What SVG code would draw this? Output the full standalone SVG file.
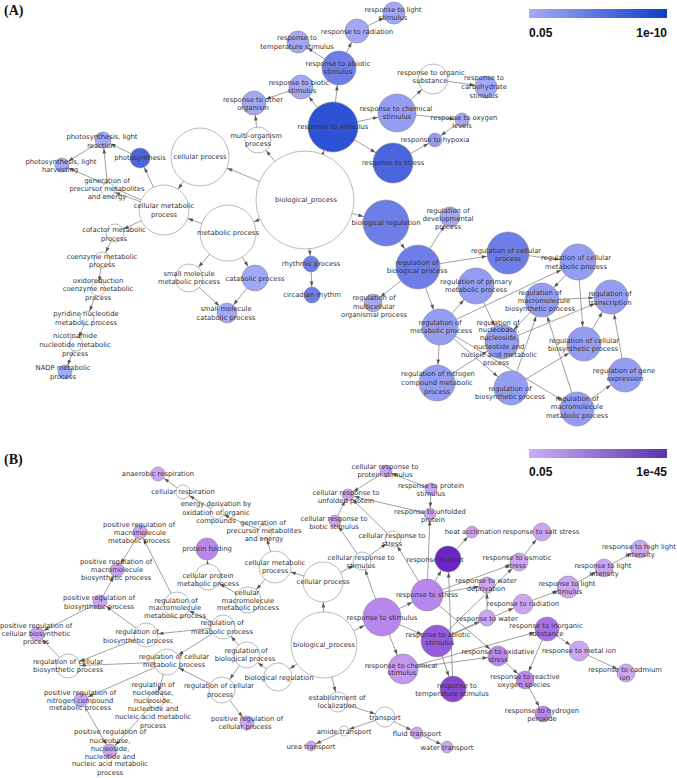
<svg xmlns="http://www.w3.org/2000/svg" width="677" height="778" viewBox="0 0 677 778">
<style>
.bg{fill:#fff}
circle{stroke:#8c8c8c;stroke-width:0.6}
.w{fill:#fff}
.ba{fill:#a2a7f6}.bb{fill:#959df2}.bc{fill:#6e7ee9}.bd{fill:#4b65df}.be{fill:#2e52d6}
.pa{fill:#cba5f3}.pa2{fill:#c497f0}.pb{fill:#b886ec}.pc{fill:#a870e6}.pd{fill:#965adf}.pe{fill:#8647d6}.pf{fill:#6a25c4}
text{font-family:"DejaVu Sans","Liberation Sans",sans-serif;font-size:6.8px;fill:#333;text-anchor:middle}
.cb{font-family:"Liberation Sans",Arial,sans-serif;font-size:12px;font-weight:bold;fill:#111}
.pl{font-family:"Liberation Serif","Times New Roman",serif;font-size:14px;font-weight:bold;fill:#111;text-anchor:start}
#edges line{stroke:#808080;stroke-width:0.75}
.ah{fill:#555}
</style>
<defs>
<linearGradient id="gA" x1="0" x2="1" y1="0" y2="0"><stop offset="0" stop-color="#a6abf8"/><stop offset="1" stop-color="#0d3ec6"/></linearGradient>
<linearGradient id="gB" x1="0" x2="1" y1="0" y2="0"><stop offset="0" stop-color="#cbb0f6"/><stop offset="1" stop-color="#5a34ad"/></linearGradient>
<marker id="m5" markerUnits="userSpaceOnUse" orient="auto" overflow="visible" markerWidth="1" markerHeight="1"><path class="ah" d="M-10.5,-1.8L-5.5,0L-10.5,1.8z"/></marker>
<marker id="m6" markerUnits="userSpaceOnUse" orient="auto" overflow="visible" markerWidth="1" markerHeight="1"><path class="ah" d="M-11.5,-1.8L-6.5,0L-11.5,1.8z"/></marker>
<marker id="m7" markerUnits="userSpaceOnUse" orient="auto" overflow="visible" markerWidth="1" markerHeight="1"><path class="ah" d="M-12.5,-1.8L-7.5,0L-12.5,1.8z"/></marker>
<marker id="m8" markerUnits="userSpaceOnUse" orient="auto" overflow="visible" markerWidth="1" markerHeight="1"><path class="ah" d="M-13.5,-1.8L-8.5,0L-13.5,1.8z"/></marker>
<marker id="m9" markerUnits="userSpaceOnUse" orient="auto" overflow="visible" markerWidth="1" markerHeight="1"><path class="ah" d="M-14.5,-1.8L-9.5,0L-14.5,1.8z"/></marker>
<marker id="m10" markerUnits="userSpaceOnUse" orient="auto" overflow="visible" markerWidth="1" markerHeight="1"><path class="ah" d="M-15.5,-1.8L-10.5,0L-15.5,1.8z"/></marker>
<marker id="m11" markerUnits="userSpaceOnUse" orient="auto" overflow="visible" markerWidth="1" markerHeight="1"><path class="ah" d="M-16.5,-1.8L-11.5,0L-16.5,1.8z"/></marker>
<marker id="m12" markerUnits="userSpaceOnUse" orient="auto" overflow="visible" markerWidth="1" markerHeight="1"><path class="ah" d="M-17.5,-1.8L-12.5,0L-17.5,1.8z"/></marker>
<marker id="m13" markerUnits="userSpaceOnUse" orient="auto" overflow="visible" markerWidth="1" markerHeight="1"><path class="ah" d="M-18.5,-1.8L-13.5,0L-18.5,1.8z"/></marker>
<marker id="m14" markerUnits="userSpaceOnUse" orient="auto" overflow="visible" markerWidth="1" markerHeight="1"><path class="ah" d="M-19.5,-1.8L-14.5,0L-19.5,1.8z"/></marker>
<marker id="m15" markerUnits="userSpaceOnUse" orient="auto" overflow="visible" markerWidth="1" markerHeight="1"><path class="ah" d="M-20.5,-1.8L-15.5,0L-20.5,1.8z"/></marker>
<marker id="m16" markerUnits="userSpaceOnUse" orient="auto" overflow="visible" markerWidth="1" markerHeight="1"><path class="ah" d="M-21.5,-1.8L-16.5,0L-21.5,1.8z"/></marker>
<marker id="m17" markerUnits="userSpaceOnUse" orient="auto" overflow="visible" markerWidth="1" markerHeight="1"><path class="ah" d="M-22.5,-1.8L-17.5,0L-22.5,1.8z"/></marker>
<marker id="m18" markerUnits="userSpaceOnUse" orient="auto" overflow="visible" markerWidth="1" markerHeight="1"><path class="ah" d="M-23.5,-1.8L-18.5,0L-23.5,1.8z"/></marker>
<marker id="m19" markerUnits="userSpaceOnUse" orient="auto" overflow="visible" markerWidth="1" markerHeight="1"><path class="ah" d="M-24.5,-1.8L-19.5,0L-24.5,1.8z"/></marker>
<marker id="m20" markerUnits="userSpaceOnUse" orient="auto" overflow="visible" markerWidth="1" markerHeight="1"><path class="ah" d="M-25.5,-1.8L-20.5,0L-25.5,1.8z"/></marker>
<marker id="m21" markerUnits="userSpaceOnUse" orient="auto" overflow="visible" markerWidth="1" markerHeight="1"><path class="ah" d="M-26.5,-1.8L-21.5,0L-26.5,1.8z"/></marker>
<marker id="m22" markerUnits="userSpaceOnUse" orient="auto" overflow="visible" markerWidth="1" markerHeight="1"><path class="ah" d="M-27.5,-1.8L-22.5,0L-27.5,1.8z"/></marker>
<marker id="m23" markerUnits="userSpaceOnUse" orient="auto" overflow="visible" markerWidth="1" markerHeight="1"><path class="ah" d="M-28.5,-1.8L-23.5,0L-28.5,1.8z"/></marker>
<marker id="m25" markerUnits="userSpaceOnUse" orient="auto" overflow="visible" markerWidth="1" markerHeight="1"><path class="ah" d="M-30.5,-1.8L-25.5,0L-30.5,1.8z"/></marker>
<marker id="m28" markerUnits="userSpaceOnUse" orient="auto" overflow="visible" markerWidth="1" markerHeight="1"><path class="ah" d="M-33.5,-1.8L-28.5,0L-33.5,1.8z"/></marker>
<marker id="m29" markerUnits="userSpaceOnUse" orient="auto" overflow="visible" markerWidth="1" markerHeight="1"><path class="ah" d="M-34.5,-1.8L-29.5,0L-34.5,1.8z"/></marker>
</defs>
<rect class="bg" x="0" y="0" width="677" height="778"/>
<text class="pl" x="4" y="15">(A)</text>
<text class="pl" x="4" y="464">(B)</text>
<g id="legendA">
<rect x="529" y="9" width="138" height="9" fill="url(#gA)"/>
<text class="cb" x="529" y="36.5" style="text-anchor:start">0.05</text>
<text class="cb" x="667" y="36.5" style="text-anchor:end">1e-10</text>
</g>
<g id="legendB">
<rect x="529" y="449" width="138" height="9" fill="url(#gB)"/>
<text class="cb" x="529" y="475.5" style="text-anchor:start">0.05</text>
<text class="cb" x="667" y="475.5" style="text-anchor:end">1e-45</text>
</g>
<g id="edges">
<line x1="305" y1="200" x2="200" y2="157" marker-end="url(#m29)"/>
<line x1="305" y1="200" x2="258" y2="140" marker-end="url(#m13)"/>
<line x1="305" y1="200" x2="333" y2="127" marker-end="url(#m25)"/>
<line x1="305" y1="200" x2="228" y2="233" marker-end="url(#m28)"/>
<line x1="305" y1="200" x2="311" y2="264" marker-end="url(#m8)"/>
<line x1="305" y1="200" x2="386" y2="223" marker-end="url(#m23)"/>
<line x1="200" y1="157" x2="164" y2="210" marker-end="url(#m25)"/>
<line x1="258" y1="140" x2="254" y2="103" marker-end="url(#m12)"/>
<line x1="333" y1="127" x2="301" y2="87" marker-end="url(#m12)"/>
<line x1="333" y1="127" x2="339" y2="68" marker-end="url(#m17)"/>
<line x1="333" y1="127" x2="397" y2="113" marker-end="url(#m19)"/>
<line x1="333" y1="127" x2="393" y2="163" marker-end="url(#m20)"/>
<line x1="339" y1="68" x2="298" y2="42" marker-end="url(#m11)"/>
<line x1="339" y1="68" x2="357" y2="31" marker-end="url(#m12)"/>
<line x1="357" y1="31" x2="394" y2="13" marker-end="url(#m11)"/>
<line x1="397" y1="113" x2="433" y2="79" marker-end="url(#m15)"/>
<line x1="433" y1="79" x2="486" y2="87" marker-end="url(#m11)"/>
<line x1="397" y1="113" x2="462" y2="120" marker-end="url(#m7)"/>
<line x1="462" y1="120" x2="435" y2="140" marker-end="url(#m7)"/>
<line x1="393" y1="163" x2="435" y2="140" marker-end="url(#m7)"/>
<line x1="301" y1="87" x2="254" y2="103" marker-end="url(#m12)"/>
<line x1="164" y1="210" x2="140" y2="158" marker-end="url(#m10)"/>
<line x1="140" y1="158" x2="103" y2="140" marker-end="url(#m8)"/>
<line x1="103" y1="140" x2="62" y2="165" marker-end="url(#m7)"/>
<line x1="108" y1="190" x2="103" y2="140" marker-end="url(#m8)"/>
<line x1="164" y1="210" x2="108" y2="190" marker-end="url(#m7)"/>
<line x1="164" y1="210" x2="62" y2="165" marker-end="url(#m7)"/>
<line x1="164" y1="210" x2="115" y2="233" marker-end="url(#m9)"/>
<line x1="115" y1="233" x2="102" y2="260" marker-end="url(#m8)"/>
<line x1="102" y1="260" x2="98" y2="289" marker-end="url(#m7)"/>
<line x1="98" y1="289" x2="87" y2="318" marker-end="url(#m7)"/>
<line x1="87" y1="318" x2="76" y2="344" marker-end="url(#m7)"/>
<line x1="76" y1="344" x2="65" y2="372" marker-end="url(#m7)"/>
<line x1="228" y1="233" x2="164" y2="210" marker-end="url(#m25)"/>
<line x1="228" y1="233" x2="189" y2="278" marker-end="url(#m14)"/>
<line x1="228" y1="233" x2="255" y2="278" marker-end="url(#m13)"/>
<line x1="189" y1="278" x2="227" y2="313" marker-end="url(#m10)"/>
<line x1="255" y1="278" x2="227" y2="313" marker-end="url(#m10)"/>
<line x1="311" y1="264" x2="312" y2="295" marker-end="url(#m8)"/>
<line x1="386" y1="223" x2="418" y2="267" marker-end="url(#m22)"/>
<line x1="418" y1="267" x2="450" y2="217" marker-end="url(#m10)"/>
<line x1="418" y1="267" x2="373" y2="303" marker-end="url(#m9)"/>
<line x1="418" y1="267" x2="440" y2="327" marker-end="url(#m18)"/>
<line x1="418" y1="267" x2="508" y2="253" marker-end="url(#m21)"/>
<line x1="440" y1="327" x2="437" y2="383" marker-end="url(#m18)"/>
<line x1="440" y1="327" x2="476" y2="286" marker-end="url(#m18)"/>
<line x1="440" y1="327" x2="578" y2="262" marker-end="url(#m18)"/>
<line x1="508" y1="253" x2="578" y2="262" marker-end="url(#m18)"/>
<line x1="578" y1="262" x2="542" y2="300" marker-end="url(#m17)"/>
<line x1="578" y1="262" x2="584" y2="344" marker-end="url(#m17)"/>
<line x1="542" y1="300" x2="611" y2="297" marker-end="url(#m17)"/>
<line x1="542" y1="300" x2="502" y2="342" marker-end="url(#m17)"/>
<line x1="476" y1="286" x2="502" y2="342" marker-end="url(#m17)"/>
<line x1="502" y1="342" x2="611" y2="297" marker-end="url(#m17)"/>
<line x1="584" y1="344" x2="611" y2="297" marker-end="url(#m17)"/>
<line x1="625" y1="375" x2="611" y2="297" marker-end="url(#m17)"/>
<line x1="511" y1="388" x2="542" y2="300" marker-end="url(#m17)"/>
<line x1="511" y1="388" x2="584" y2="344" marker-end="url(#m17)"/>
<line x1="577" y1="409" x2="542" y2="300" marker-end="url(#m17)"/>
<line x1="577" y1="409" x2="625" y2="375" marker-end="url(#m17)"/>
<line x1="440" y1="327" x2="511" y2="388" marker-end="url(#m17)"/>
<line x1="440" y1="327" x2="577" y2="409" marker-end="url(#m17)"/>
<line x1="437" y1="383" x2="502" y2="342" marker-end="url(#m17)"/>
<line x1="324" y1="645" x2="323" y2="582" marker-end="url(#m20)"/>
<line x1="324" y1="645" x2="382" y2="617" marker-end="url(#m19)"/>
<line x1="324" y1="645" x2="338" y2="702" marker-end="url(#m10)"/>
<line x1="324" y1="645" x2="278" y2="677" marker-end="url(#m14)"/>
<line x1="278" y1="677" x2="247" y2="655" marker-end="url(#m13)"/>
<line x1="247" y1="655" x2="223" y2="627" marker-end="url(#m12)"/>
<line x1="247" y1="655" x2="222" y2="690" marker-end="url(#m13)"/>
<line x1="222" y1="690" x2="247" y2="723" marker-end="url(#m7)"/>
<line x1="222" y1="690" x2="167" y2="662" marker-end="url(#m13)"/>
<line x1="223" y1="627" x2="167" y2="662" marker-end="url(#m13)"/>
<line x1="223" y1="627" x2="177" y2="605" marker-end="url(#m13)"/>
<line x1="223" y1="627" x2="146" y2="635" marker-end="url(#m12)"/>
<line x1="167" y1="662" x2="68" y2="666" marker-end="url(#m12)"/>
<line x1="146" y1="635" x2="68" y2="666" marker-end="url(#m12)"/>
<line x1="167" y1="662" x2="156" y2="700" marker-end="url(#m8)"/>
<line x1="146" y1="635" x2="100" y2="602" marker-end="url(#m7)"/>
<line x1="68" y1="666" x2="37" y2="634" marker-end="url(#m7)"/>
<line x1="100" y1="602" x2="37" y2="634" marker-end="url(#m7)"/>
<line x1="140" y1="532" x2="117" y2="570" marker-end="url(#m7)"/>
<line x1="100" y1="602" x2="117" y2="570" marker-end="url(#m7)"/>
<line x1="177" y1="605" x2="140" y2="532" marker-end="url(#m7)"/>
<line x1="167" y1="662" x2="81" y2="700" marker-end="url(#m7)"/>
<line x1="81" y1="700" x2="110" y2="751" marker-end="url(#m7)"/>
<line x1="156" y1="700" x2="110" y2="751" marker-end="url(#m7)"/>
<line x1="323" y1="582" x2="275" y2="567" marker-end="url(#m16)"/>
<line x1="323" y1="582" x2="362" y2="561" marker-end="url(#m9)"/>
<line x1="382" y1="617" x2="362" y2="561" marker-end="url(#m9)"/>
<line x1="362" y1="561" x2="393" y2="539" marker-end="url(#m8)"/>
<line x1="362" y1="561" x2="335" y2="521" marker-end="url(#m6)"/>
<line x1="393" y1="539" x2="348" y2="495" marker-end="url(#m6)"/>
<line x1="335" y1="521" x2="348" y2="495" marker-end="url(#m6)"/>
<line x1="386" y1="471" x2="348" y2="495" marker-end="url(#m6)"/>
<line x1="431" y1="489" x2="386" y2="471" marker-end="url(#m6)"/>
<line x1="431" y1="489" x2="430" y2="514" marker-end="url(#m6)"/>
<line x1="430" y1="514" x2="348" y2="495" marker-end="url(#m6)"/>
<line x1="427" y1="595" x2="393" y2="539" marker-end="url(#m8)"/>
<line x1="427" y1="595" x2="430" y2="514" marker-end="url(#m6)"/>
<line x1="427" y1="595" x2="448" y2="559" marker-end="url(#m13)"/>
<line x1="448" y1="559" x2="472" y2="532" marker-end="url(#m6)"/>
<line x1="427" y1="595" x2="519" y2="562" marker-end="url(#m9)"/>
<line x1="427" y1="595" x2="487" y2="585" marker-end="url(#m8)"/>
<line x1="519" y1="562" x2="542" y2="532" marker-end="url(#m9)"/>
<line x1="382" y1="617" x2="427" y2="595" marker-end="url(#m16)"/>
<line x1="382" y1="617" x2="437" y2="641" marker-end="url(#m16)"/>
<line x1="382" y1="617" x2="403" y2="669" marker-end="url(#m15)"/>
<line x1="437" y1="641" x2="453" y2="689" marker-end="url(#m13)"/>
<line x1="453" y1="689" x2="448" y2="559" marker-end="url(#m13)"/>
<line x1="437" y1="641" x2="487" y2="618" marker-end="url(#m8)"/>
<line x1="437" y1="641" x2="523" y2="604" marker-end="url(#m10)"/>
<line x1="437" y1="641" x2="519" y2="562" marker-end="url(#m9)"/>
<line x1="523" y1="604" x2="568" y2="587" marker-end="url(#m11)"/>
<line x1="568" y1="587" x2="604" y2="568" marker-end="url(#m9)"/>
<line x1="604" y1="568" x2="640" y2="549" marker-end="url(#m9)"/>
<line x1="487" y1="618" x2="487" y2="585" marker-end="url(#m8)"/>
<line x1="403" y1="669" x2="547" y2="629" marker-end="url(#m12)"/>
<line x1="403" y1="669" x2="498" y2="656" marker-end="url(#m10)"/>
<line x1="427" y1="595" x2="498" y2="656" marker-end="url(#m10)"/>
<line x1="498" y1="656" x2="525" y2="680" marker-end="url(#m9)"/>
<line x1="547" y1="629" x2="525" y2="680" marker-end="url(#m9)"/>
<line x1="547" y1="629" x2="579" y2="651" marker-end="url(#m10)"/>
<line x1="579" y1="651" x2="626" y2="673" marker-end="url(#m9)"/>
<line x1="525" y1="680" x2="543" y2="714" marker-end="url(#m8)"/>
<line x1="338" y1="702" x2="385" y2="717" marker-end="url(#m10)"/>
<line x1="385" y1="717" x2="344" y2="731" marker-end="url(#m5)"/>
<line x1="385" y1="717" x2="417" y2="733" marker-end="url(#m6)"/>
<line x1="344" y1="731" x2="311" y2="746" marker-end="url(#m5)"/>
<line x1="417" y1="733" x2="447" y2="747" marker-end="url(#m6)"/>
<line x1="275" y1="567" x2="248" y2="600" marker-end="url(#m13)"/>
<line x1="275" y1="567" x2="265" y2="532" marker-end="url(#m7)"/>
<line x1="265" y1="532" x2="217" y2="512" marker-end="url(#m7)"/>
<line x1="217" y1="512" x2="183" y2="492" marker-end="url(#m7)"/>
<line x1="183" y1="492" x2="158" y2="474" marker-end="url(#m7)"/>
<line x1="248" y1="600" x2="208" y2="577" marker-end="url(#m13)"/>
<line x1="208" y1="577" x2="207" y2="549" marker-end="url(#m11)"/>
</g>
<g id="a-photosynthesis-light-reaction"><circle class="ba" cx="103" cy="140" r="8"/><text x="102" y="139.4">photosynthesis, light</text><text x="101" y="148.4">reaction</text></g>
<g id="a-photosynthesis"><circle class="bd" cx="140" cy="158" r="10"/><text x="140" y="160.4">photosynthesis</text></g>
<g id="a-photosynthesis-light-harvesting"><circle class="ba" cx="62" cy="165" r="7"/><text x="61" y="164.4">photosynthesis, light</text><text x="60" y="172.4">harvesting</text></g>
<g id="a-cellular-process"><circle class="w" cx="200" cy="157" r="29"/><text x="200" y="159.4">cellular process</text></g>
<g id="a-generation-precursor"><circle class="w" cx="108" cy="190" r="7"/><text x="107" y="183.4">generation of</text><text x="107" y="190.9">precursor metabolites</text><text x="107" y="199">and energy</text></g>
<g id="a-cellular-metabolic-process"><circle class="w" cx="164" cy="210" r="25"/><text x="164" y="208.4">cellular metabolic</text><text x="164" y="217.4">process</text></g>
<g id="a-metabolic-process"><circle class="w" cx="228" cy="233" r="28"/><text x="228" y="235.4">metabolic process</text></g>
<g id="a-cofactor"><circle class="w" cx="115" cy="233" r="9"/><text x="114" y="232.4">cofactor metabolic</text><text x="114" y="240.9">process</text></g>
<g id="a-coenzyme"><circle class="w" cx="102" cy="260" r="8"/><text x="102" y="259.4">coenzyme metabolic</text><text x="102" y="267.4">process</text></g>
<g id="a-oxidoreduction"><circle class="w" cx="98" cy="289" r="7"/><text x="98" y="283.4">oxidoreduction</text><text x="98" y="291.4">coenzyme metabolic</text><text x="98" y="300">process</text></g>
<g id="a-pyridine"><circle class="w" cx="87" cy="318" r="7"/><text x="86" y="316.4">pyridine nucleotide</text><text x="86" y="324.9">metabolic process</text></g>
<g id="a-nicotinamide"><circle class="w" cx="76" cy="344" r="7"/><text x="75" y="338.4">nicotinamide</text><text x="75" y="347.4">nucleotide metabolic</text><text x="75" y="355.6">process</text></g>
<g id="a-nadp"><circle class="ba" cx="65" cy="372" r="7"/><text x="63" y="370.4">NADP metabolic</text><text x="63" y="379.4">process</text></g>
<g id="a-small-molecule-metabolic"><circle class="w" cx="189" cy="278" r="14"/><text x="189" y="276.4">small molecule</text><text x="189" y="284.4">metabolic process</text></g>
<g id="a-small-molecule-catabolic"><circle class="ba" cx="227" cy="313" r="10"/><text x="226" y="311.4">small molecule</text><text x="226" y="320.4">catabolic process</text></g>
<g id="a-catabolic"><circle class="ba" cx="255" cy="278" r="13"/><text x="255" y="281.4">catabolic process</text></g>
<g id="a-biological-process"><circle class="w" cx="305" cy="200" r="49"/><text x="306" y="202.4">biological_process</text></g>
<g id="a-rhythmic"><circle class="bc" cx="311" cy="264" r="8"/><text x="311" y="266.4">rhythmic process</text></g>
<g id="a-circadian"><circle class="bc" cx="312" cy="295" r="8"/><text x="312" y="297.4">circadian rhythm</text></g>
<g id="a-biological-regulation"><circle class="bc" cx="386" cy="223" r="23"/><text x="386" y="225.4">biological regulation</text></g>
<g id="a-reg-biological-process"><circle class="bc" cx="418" cy="267" r="22"/><text x="417" y="265.4">regulation of</text><text x="417" y="273.4">biological process</text></g>
<g id="a-reg-multicellular"><circle class="ba" cx="373" cy="303" r="9"/><text x="374" y="300.4">regulation of</text><text x="374" y="309.4">multicellular</text><text x="374" y="317.4">organismal process</text></g>
<g id="a-reg-developmental"><circle class="ba" cx="450" cy="217" r="10"/><text x="448" y="213.4">regulation of</text><text x="448" y="221.4">developmental</text><text x="448" y="229.4">process</text></g>
<g id="a-reg-metabolic"><circle class="bb" cx="440" cy="327" r="18"/><text x="440" y="325.4">regulation of</text><text x="441" y="333.4">metabolic process</text></g>
<g id="a-reg-nitrogen"><circle class="bb" cx="437" cy="383" r="18"/><text x="438" y="376.4">regulation of nitrogen</text><text x="437" y="385.4">compound metabolic</text><text x="437" y="394">process</text></g>
<g id="a-reg-cellular-process"><circle class="bc" cx="508" cy="253" r="21"/><text x="506" y="253.4">regulation of cellular</text><text x="508" y="261.4">process</text></g>
<g id="a-reg-cellular-metabolic"><circle class="bb" cx="578" cy="262" r="18"/><text x="576" y="260.4">regulation of cellular</text><text x="576" y="269.4">metabolic process</text></g>
<g id="a-reg-primary"><circle class="bb" cx="476" cy="286" r="18"/><text x="476" y="284.4">regulation of primary</text><text x="476" y="292.4">metabolic process</text></g>
<g id="a-reg-macromolecule-biosynthetic"><circle class="bb" cx="542" cy="300" r="17"/><text x="540" y="295.4">regulation of</text><text x="544" y="303.4">macromolecule</text><text x="540" y="311.4">biosynthetic process</text></g>
<g id="a-reg-transcription"><circle class="bb" cx="611" cy="297" r="17"/><text x="610" y="296.4">regulation of</text><text x="610" y="305.4">transcription</text></g>
<g id="a-reg-nucleobase"><circle class="bb" cx="502" cy="342" r="17"/><text x="498" y="325.4">regulation of</text><text x="499" y="332.4">nucleobase,</text><text x="499" y="340.4">nucleoside,</text><text x="499" y="349.4">nucleotide and</text><text x="499" y="357.4">nucleic acid metabolic</text><text x="496" y="365.4">process</text></g>
<g id="a-reg-cellular-biosynthetic"><circle class="bb" cx="584" cy="344" r="17"/><text x="584" y="343.4">regulation of cellular</text><text x="583" y="351.4">biosynthetic process</text></g>
<g id="a-reg-gene-expression"><circle class="bb" cx="625" cy="375" r="17"/><text x="624" y="373.4">regulation of gene</text><text x="625" y="381.4">expression</text></g>
<g id="a-reg-biosynthetic"><circle class="bb" cx="511" cy="388" r="17"/><text x="510" y="391.4">regulation of</text><text x="510" y="399.4">biosynthetic process</text></g>
<g id="a-reg-macromolecule-metabolic"><circle class="bb" cx="577" cy="409" r="17"/><text x="577" y="401.4">regulation of</text><text x="577" y="409.4">macromolecule</text><text x="577" y="418.4">metabolic process</text></g>
<g id="a-resp-light-stimulus"><circle class="ba" cx="394" cy="13" r="11"/><text x="393" y="12.4">response to light</text><text x="393" y="20.4">stimulus</text></g>
<g id="a-resp-radiation"><circle class="ba" cx="357" cy="31" r="12"/><text x="357" y="34.4">response to radiation</text></g>
<g id="a-resp-temperature"><circle class="ba" cx="298" cy="42" r="11"/><text x="297" y="40.4">response to</text><text x="297" y="49.4">temperature stimulus</text></g>
<g id="a-resp-abiotic"><circle class="bc" cx="339" cy="68" r="17"/><text x="338" y="66.4">response to abiotic</text><text x="338" y="74.4">stimulus</text></g>
<g id="a-resp-biotic"><circle class="ba" cx="301" cy="87" r="12"/><text x="299" y="85.4">response to biotic</text><text x="302" y="93.4">stimulus</text></g>
<g id="a-resp-other-organism"><circle class="ba" cx="254" cy="103" r="12"/><text x="253" y="102.4">response to other</text><text x="253" y="110.4">organism</text></g>
<g id="a-multi-organism"><circle class="w" cx="258" cy="140" r="13"/><text x="256" y="138.4">multi-organism</text><text x="258" y="146.4">process</text></g>
<g id="a-resp-stimulus"><circle class="be" cx="333" cy="127" r="25"/><text x="333" y="129.4">response to stimulus</text></g>
<g id="a-resp-chemical"><circle class="bb" cx="397" cy="113" r="19"/><text x="396" y="111.4">response to chemical</text><text x="397" y="119.4">stimulus</text></g>
<g id="a-resp-organic"><circle class="w" cx="433" cy="79" r="15"/><text x="431" y="75.4">response to organic</text><text x="430" y="83.4">substance</text></g>
<g id="a-resp-carbohydrate"><circle class="ba" cx="486" cy="87" r="11"/><text x="484" y="80.4">response to</text><text x="484" y="89.4">carbohydrate</text><text x="484" y="98">stimulus</text></g>
<g id="a-resp-oxygen"><circle class="ba" cx="462" cy="120" r="7"/><text x="464" y="120.4">response to oxygen</text><text x="462" y="128.4">levels</text></g>
<g id="a-resp-hypoxia"><circle class="bb" cx="435" cy="140" r="7"/><text x="435" y="142.4">response to hypoxia</text></g>
<g id="a-resp-stress"><circle class="bd" cx="393" cy="163" r="20"/><text x="393" y="165.4">response to stress</text></g>
<g id="b-anaerobic"><circle class="pa" cx="158" cy="474" r="7"/><text x="158" y="476.4">anaerobic respiration</text></g>
<g id="b-cellular-respiration"><circle class="w" cx="183" cy="492" r="7"/><text x="183" y="494.4">cellular respiration</text></g>
<g id="b-energy-derivation"><circle class="w" cx="217" cy="512" r="7"/><text x="216" y="506.4">energy derivation by</text><text x="216" y="515.4">oxidation of organic</text><text x="216" y="523.4">compounds</text></g>
<g id="b-generation-precursor"><circle class="w" cx="265" cy="532" r="7"/><text x="263" y="525.4">generation of</text><text x="264" y="533.4">precursor metabolites</text><text x="264" y="541.4">and energy</text></g>
<g id="b-protein-folding"><circle class="pb" cx="207" cy="549" r="11"/><text x="207" y="551.4">protein folding</text></g>
<g id="b-cellular-protein-metabolic"><circle class="w" cx="208" cy="577" r="13"/><text x="208" y="578.4">cellular protein</text><text x="208" y="586.4">metabolic process</text></g>
<g id="b-cellular-macromolecule-metabolic"><circle class="w" cx="248" cy="600" r="13"/><text x="247" y="595.4">cellular</text><text x="248" y="603.4">macromolecule</text><text x="248" y="610.4">metabolic process</text></g>
<g id="b-cellular-metabolic"><circle class="w" cx="275" cy="567" r="16"/><text x="275" y="565.4">cellular metabolic</text><text x="275" y="573.4">process</text></g>
<g id="b-cellular-process"><circle class="w" cx="323" cy="582" r="20"/><text x="323" y="584.4">cellular process</text></g>
<g id="b-biological-process"><circle class="w" cx="324" cy="645" r="33"/><text x="324" y="647.4">biological_process</text></g>
<g id="b-biological-regulation"><circle class="w" cx="278" cy="677" r="14"/><text x="279" y="680.4">biological regulation</text></g>
<g id="b-reg-biological-process"><circle class="w" cx="247" cy="655" r="13"/><text x="246" y="653.4">regulation of</text><text x="245" y="661.4">biological process</text></g>
<g id="b-reg-metabolic"><circle class="w" cx="223" cy="627" r="12"/><text x="222" y="625.4">regulation of</text><text x="222" y="634.4">metabolic process</text></g>
<g id="b-reg-macromolecule-metabolic"><circle class="w" cx="177" cy="605" r="13"/><text x="176" y="603.4">regulation of</text><text x="175" y="610.4">macromolecule</text><text x="175" y="618.4">metabolic process</text></g>
<g id="b-pos-reg-macromolecule-metabolic"><circle class="pa" cx="140" cy="532" r="7"/><text x="139" y="527.4">positive regulation of</text><text x="140" y="535.4">macromolecule</text><text x="139" y="543.4">metabolic process</text></g>
<g id="b-pos-reg-macromolecule-biosynthetic"><circle class="pa" cx="117" cy="570" r="7"/><text x="116" y="564.4">positive regulation of</text><text x="117" y="572.4">macromolecule</text><text x="116" y="580.4">biosynthetic process</text></g>
<g id="b-pos-reg-biosynthetic"><circle class="pa" cx="100" cy="602" r="7"/><text x="99" y="600.4">positive regulation of</text><text x="99" y="609.4">biosynthetic process</text></g>
<g id="b-pos-reg-cellular-biosynthetic"><circle class="pa" cx="37" cy="634" r="7"/><text x="36" y="628.4">positive regulation of</text><text x="36" y="636.4">cellular biosynthetic</text><text x="36" y="644.4">process</text></g>
<g id="b-reg-biosynthetic"><circle class="w" cx="146" cy="635" r="12"/><text x="137" y="634.4">regulation of</text><text x="138" y="643.4">biosynthetic process</text></g>
<g id="b-reg-cellular-biosynthetic"><circle class="w" cx="68" cy="666" r="12"/><text x="68" y="664.4">regulation of cellular</text><text x="68" y="672.4">biosynthetic process</text></g>
<g id="b-reg-cellular-metabolic"><circle class="w" cx="167" cy="662" r="13"/><text x="174" y="659.4">regulation of cellular</text><text x="174" y="667.4">metabolic process</text></g>
<g id="b-pos-reg-nitrogen"><circle class="pa" cx="81" cy="700" r="7"/><text x="80" y="695.4">positive regulation of</text><text x="80" y="703.4">nitrogen compound</text><text x="80" y="710.4">metabolic process</text></g>
<g id="b-reg-nucleobase"><circle class="w" cx="156" cy="700" r="8"/><text x="153" y="687.4">regulation of</text><text x="153" y="695.4">nucleobase,</text><text x="153" y="703.4">nucleoside,</text><text x="153" y="711.4">nucleotide and</text><text x="153" y="719.4">nucleic acid metabolic</text><text x="153" y="728">process</text></g>
<g id="b-reg-cellular-process"><circle class="w" cx="222" cy="690" r="13"/><text x="219" y="688.4">regulation of cellular</text><text x="220" y="697.4">process</text></g>
<g id="b-pos-reg-cellular-process"><circle class="pa" cx="247" cy="723" r="7"/><text x="247" y="721.4">positive regulation of</text><text x="245" y="729.4">cellular process</text></g>
<g id="b-pos-reg-nucleobase"><circle class="pa" cx="110" cy="751" r="7"/><text x="110" y="734.4">positive regulation of</text><text x="110" y="743.4">nucleobase,</text><text x="110" y="751.4">nucleoside,</text><text x="110" y="759.4">nucleotide and</text><text x="110" y="766.4">nucleic acid metabolic</text><text x="110" y="775.4">process</text></g>
<g id="b-resp-stimulus"><circle class="pb" cx="382" cy="617" r="19"/><text x="382" y="620.4">response to stimulus</text></g>
<g id="b-resp-stress"><circle class="pb" cx="427" cy="595" r="16"/><text x="427" y="597.4">response to stress</text></g>
<g id="b-resp-abiotic"><circle class="pd" cx="437" cy="641" r="16"/><text x="438" y="637.4">response to abiotic</text><text x="440" y="645.4">stimulus</text></g>
<g id="b-resp-chemical"><circle class="pa2" cx="403" cy="669" r="15"/><text x="401" y="668.4">response to chemical</text><text x="402" y="675.4">stimulus</text></g>
<g id="b-resp-temperature"><circle class="pe" cx="453" cy="689" r="13"/><text x="457" y="688.4">response to</text><text x="452" y="696.4">temperature stimulus</text></g>
<g id="b-establishment-localization"><circle class="w" cx="338" cy="702" r="10"/><text x="337" y="700.4">establishment of</text><text x="337" y="708.4">localization</text></g>
<g id="b-transport"><circle class="w" cx="385" cy="717" r="10"/><text x="385" y="720.4">transport</text></g>
<g id="b-amide-transport"><circle class="w" cx="344" cy="731" r="5"/><text x="344" y="734.4">amide transport</text></g>
<g id="b-urea-transport"><circle class="pa" cx="311" cy="746" r="5"/><text x="311" y="749.4">urea transport</text></g>
<g id="b-fluid-transport"><circle class="pa" cx="417" cy="733" r="6"/><text x="417" y="736.4">fluid transport</text></g>
<g id="b-water-transport"><circle class="pa" cx="447" cy="747" r="6"/><text x="447" y="750.4">water transport</text></g>
<g id="b-cell-resp-protein-stimulus"><circle class="pa" cx="386" cy="471" r="6"/><text x="385" y="469.4">cellular response to</text><text x="385" y="477.4">protein stimulus</text></g>
<g id="b-resp-protein-stimulus"><circle class="pa" cx="431" cy="489" r="6"/><text x="431" y="488.4">response to protein</text><text x="431" y="496.4">stimulus</text></g>
<g id="b-cell-resp-unfolded"><circle class="pa" cx="348" cy="495" r="6"/><text x="346" y="495.4">cellular response to</text><text x="346" y="503.4">unfolded protein</text></g>
<g id="b-resp-unfolded"><circle class="pa" cx="430" cy="514" r="6"/><text x="430" y="514.4">response to unfolded</text><text x="433" y="522.4">protein</text></g>
<g id="b-cell-resp-biotic"><circle class="pa" cx="335" cy="521" r="6"/><text x="334" y="521.4">cellular response to</text><text x="334" y="529.4">biotic stimulus</text></g>
<g id="b-cell-resp-stress"><circle class="w" cx="393" cy="539" r="8"/><text x="392" y="538.4">cellular response to</text><text x="392" y="546.4">stress</text></g>
<g id="b-cell-resp-stimulus"><circle class="w" cx="362" cy="561" r="9"/><text x="361" y="560.4">cellular response to</text><text x="361" y="568.4">stimulus</text></g>
<g id="b-resp-heat"><circle class="pf" cx="448" cy="559" r="13"/><text x="435" y="562.4">response to heat</text></g>
<g id="b-heat-acclimation"><circle class="pa" cx="472" cy="532" r="6"/><text x="473" y="534.4">heat acclimation</text></g>
<g id="b-resp-salt"><circle class="pa" cx="542" cy="532" r="9"/><text x="541" y="534.4">response to salt stress</text></g>
<g id="b-resp-osmotic"><circle class="pa" cx="519" cy="562" r="9"/><text x="517" y="560.4">response to osmotic</text><text x="516" y="568.4">stress</text></g>
<g id="b-resp-high-light"><circle class="pa" cx="640" cy="549" r="9"/><text x="639" y="549.4">response to high light</text><text x="640" y="557.4">intensity</text></g>
<g id="b-resp-light-intensity"><circle class="pa" cx="604" cy="568" r="9"/><text x="603" y="568.4">response to light</text><text x="604" y="576.4">intensity</text></g>
<g id="b-resp-light-stimulus"><circle class="pa" cx="568" cy="587" r="11"/><text x="567" y="586.4">response to light</text><text x="568" y="594.4">stimulus</text></g>
<g id="b-resp-water-deprivation"><circle class="pa" cx="487" cy="585" r="8"/><text x="486" y="583.4">response to water</text><text x="486" y="591.4">deprivation</text></g>
<g id="b-resp-radiation"><circle class="pa" cx="523" cy="604" r="10"/><text x="523" y="606.4">response to radiation</text></g>
<g id="b-resp-water"><circle class="pa" cx="487" cy="618" r="8"/><text x="487" y="621.4">response to water</text></g>
<g id="b-resp-inorganic"><circle class="pc" cx="547" cy="629" r="12"/><text x="546" y="628.4">response to inorganic</text><text x="546" y="636.4">substance</text></g>
<g id="b-resp-metal-ion"><circle class="pa" cx="579" cy="651" r="10"/><text x="579" y="653.4">response to metal ion</text></g>
<g id="b-resp-cadmium"><circle class="pa" cx="626" cy="673" r="9"/><text x="625" y="672.4">response to cadmium</text><text x="625" y="680.4">ion</text></g>
<g id="b-resp-oxidative"><circle class="pb" cx="498" cy="656" r="10"/><text x="498" y="654.4">response to oxidative</text><text x="498" y="662.4">stress</text></g>
<g id="b-resp-ros"><circle class="pb" cx="525" cy="680" r="9"/><text x="525" y="679.4">response to reactive</text><text x="524" y="687.4">oxygen species</text></g>
<g id="b-resp-h2o2"><circle class="pb" cx="543" cy="714" r="8"/><text x="542" y="713.4">response to hydrogen</text><text x="542" y="721.4">peroxide</text></g>
</svg>
